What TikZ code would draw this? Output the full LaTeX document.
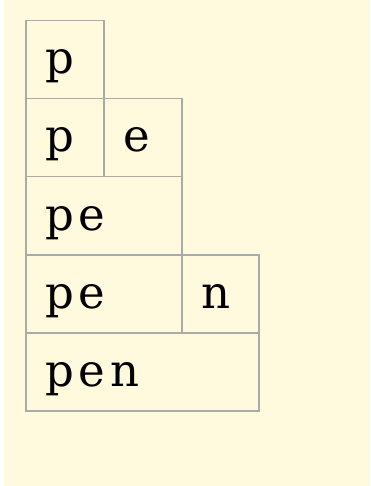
\documentclass[tikz,border=0pt]{standalone}
\usepackage{fontspec}
\newfontfamily\cellfont[LetterSpace=11]{DejaVu Serif}
\definecolor{bgyellow}{RGB}{255,250,222}
\definecolor{cellline}{RGB}{170,170,170}
\tikzset{
  cellbox/.style={draw=cellline, line width=1.5pt, inner sep=0pt, anchor=north west, minimum height=78pt},
  lbl/.style={anchor=base west, inner sep=0pt, font=\cellfont\fontsize{45}{54}\selectfont}
}
\begin{document}
\begin{tikzpicture}[x=1pt,y=-1pt]
\useasboundingbox (0,0) rectangle (370,486);
\fill[bgyellow] (4,0) rectangle (370,486);
% row 1
\node[cellbox, minimum width=78pt] (a1) at (25,20) {};
% row 2
\node[cellbox, minimum width=78pt] (b1) at (25,98) {};
\node[cellbox, minimum width=78pt] (b2) at (103,98) {};
% row 3
\node[cellbox, minimum width=156pt] (c1) at (25,176) {};
% row 4
\node[cellbox, minimum width=156pt] (d1) at (25,254) {};
\node[cellbox, minimum width=77pt] (d2) at (181,254) {};
% row 5
\node[cellbox, minimum width=233pt] (e1) at (25,332) {};
% labels
\node[lbl] (ta1) at ([xshift=20pt,yshift=-54pt]a1.north west) {p};
\node[lbl] (tb1) at ([xshift=20pt,yshift=-54pt]b1.north west) {p};
\node[lbl] (tb2) at ([xshift=20pt,yshift=-54pt]b2.north west) {e};
\node[lbl] (tc1) at ([xshift=20pt,yshift=-54pt]c1.north west) {pe};
\node[lbl] (td1) at ([xshift=20pt,yshift=-54pt]d1.north west) {pe};
\node[lbl] (td2) at ([xshift=20pt,yshift=-54pt]d2.north west) {n};
\node[lbl] (te1) at ([xshift=20pt,yshift=-54pt]e1.north west) {pen};
\end{tikzpicture}
\end{document}
